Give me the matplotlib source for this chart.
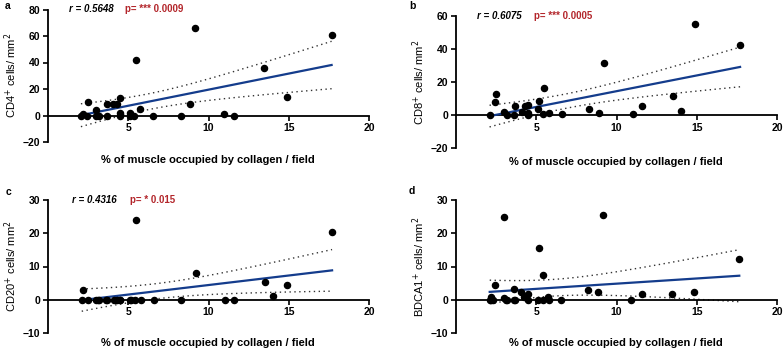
import numpy as np
import matplotlib
matplotlib.use('Agg')
import matplotlib.pyplot as plt

plt.rcParams['font.family'] = ['Liberation Sans', 'DejaVu Sans']

# collagen % per field (x) and cell density (y) per panel
xa = [2.05, 2.2, 2.4, 2.5, 2.97, 3.0, 3.2, 3.65, 3.65, 4.07, 4.28, 4.46, 4.46, 4.5,
      5.08, 5.1, 5.35, 5.47, 5.76, 6.57, 8.26, 8.86, 9.19, 10.97, 11.6, 13.47, 14.86, 17.67]
ya = [0, 1.5, 0, 10, 4, 0, 0, 9, 0, 8.5, 9, 13, 2, 0,
      2, 0, 0, 42, 5, 0, 0, 9, 66, 1, 0, 35.5, 14, 61]

xb = [2.09, 2.4, 2.5, 3.0, 3.2, 3.6, 3.7, 4.1, 4.3, 4.46, 4.5, 4.5, 5.08, 5.18,
      5.4, 5.5, 5.8, 6.6, 8.3, 8.9, 9.2, 11.0, 11.6, 13.5, 14.0, 14.9, 17.7]
yb = [0, 7.8, 12.7, 1.6, 0, 0, 5.2, 1.6, 5.6, 0, 6.2, 1.5, 3.6, 8.2,
      0.6, 16.3, 1.2, 0.6, 3.8, 1.0, 31.8, 0.6, 5.4, 11.7, 2.6, 55, 42.7]

xc = [2.1, 2.15, 2.5, 3.0, 3.1, 3.2, 3.6, 3.7, 4.1, 4.3, 4.46, 4.5, 5.08, 5.2,
      5.4, 5.5, 5.8, 6.6, 8.3, 9.2, 11.0, 11.6, 13.5, 14.0, 14.9, 17.7]
yc = [0, 3, 0, 0, 0, 0, 0, 0, 0, 0, 0, 0, 0, 0,
      0, 24, 0, 0, 0, 8, 0, 0, 5.3, 1.1, 4.3, 20.3]

xd = [2.1, 2.15, 2.2, 2.3, 2.45, 3.0, 3.0, 3.1, 3.2, 3.6, 3.6, 3.7, 4.05, 4.25, 4.46, 4.5,
      5.08, 5.15, 5.4, 5.45, 5.75, 5.8, 6.55, 8.25, 8.85, 9.15, 10.9, 11.6, 13.45, 14.8, 17.65]
yd = [0, 0, 0.8, 0, 4.5, 0.4, 25, 0, 0, 3.3, 0, 0, 2.2, 0.8, 1.7, 0,
      0, 15.6, 0, 7.4, 0.8, 0, 0, 2.8, 2.4, 25.5, 0, 1.6, 1.6, 2.2, 12.4]

ylabels = ['CD4$^{+}$ cells/ mm$^{2}$', 'CD8$^{+}$ cells/ mm$^{2}$',
           'CD20$^{+}$ cells/ mm$^{2}$', 'BDCA1$^{+}$ cells/ mm$^{2}$']
letters = ['a', 'b', 'c', 'd']
r_txt = ['r = 0.5648', 'r = 0.6075', 'r = 0.4316', None]
p_txt = ['p= *** 0.0009', 'p= *** 0.0005', 'p= * 0.015', None]
ylims = [(-20, 80), (-20, 60), (-10, 30), (-10, 30)]
yticks = [[-20, 0, 20, 40, 60, 80], [-20, 0, 20, 40, 60], [-10, 0, 10, 20, 30], [-10, 0, 10, 20, 30]]

W, H = 783, 351
# axes boxes in pixels: left, top, right, bottom
boxes = [(48, 9.5, 369, 142), (456, 16, 777, 148), (48, 200, 369, 333), (456, 200, 777, 333)]
xlab_y = [-0.136, -0.106, -0.075, -0.075]
ann_pos = [(69, 125, 9), (477, 534, 16), (72, 130, 200), None]
letter_pos = [(8, 6), (412, 6), (8, 192), (412, 191)]

fig = plt.figure(figsize=(W / 100, H / 100), dpi=100)
data = [(xa, ya), (xb, yb), (xc, yc), (xd, yd)]

for i, (x, y) in enumerate(data):
    l, t, r, b = boxes[i]
    ax = fig.add_axes([l / W, 1 - b / H, (r - l) / W, (b - t) / H])
    x = np.array(x); y = np.array(y)

    # linear fit with 95% confidence band
    n = len(x)
    slope, icpt = np.polyfit(x, y, 1)
    xs = np.linspace(x.min(), x.max(), 100)
    yfit = slope * xs + icpt
    resid = y - (slope * x + icpt)
    s = np.sqrt(np.sum(resid ** 2) / (n - 2))
    sxx = np.sum((x - x.mean()) ** 2)
    half = 2.05 * s * np.sqrt(1 / n + (xs - x.mean()) ** 2 / sxx)

    ax.plot(xs, yfit + half, ls=(0, (1, 2.5)), color='#333333', lw=1)
    ax.plot(xs, yfit - half, ls=(0, (1, 2.5)), color='#333333', lw=1)
    ax.plot(xs, yfit, color='#143c8c', lw=1.6, zorder=3)
    ax.plot(x, y, 'o', color='black', ms=4.4, zorder=4, clip_on=False)

    ax.set_xlim(0, 20)
    ax.set_ylim(*ylims[i])
    ax.set_xticks([5, 10, 15, 20])
    ax.set_yticks(yticks[i])
    ax.spines['top'].set_visible(False)
    ax.spines['right'].set_visible(False)
    ax.spines['bottom'].set_position(('data', 0))
    for sp in ['left', 'bottom']:
        ax.spines[sp].set_linewidth(1.3)
    ax.tick_params(axis='both', direction='out', length=3.5, width=1.2, labelsize=7.5, pad=2)
    for lab in ax.get_xticklabels() + ax.get_yticklabels():
        lab.set_fontweight('bold')
    ax.patch.set_alpha(0)

    ax.set_ylabel(ylabels[i], fontsize=8, va='center')
    ax.yaxis.set_label_coords(-0.115, 0.5)
    ax.text(0.498, xlab_y[i], '% of muscle occupied by collagen / field', transform=ax.transAxes,
            ha='center', va='center', fontsize=8, fontweight='bold')

    lx, ly = letter_pos[i]
    fig.text(lx / W, 1 - ly / H, letters[i], fontsize=7.5, fontweight='bold', ha='center', va='center')
    if ann_pos[i] is not None:
        rx, px, ty = ann_pos[i]
        fig.text(rx / W, 1 - ty / H, r_txt[i], fontsize=7, fontweight='bold', fontstyle='italic',
                 ha='left', va='center')
        fig.text(px / W, 1 - ty / H, p_txt[i], fontsize=7, fontweight='bold', color='#b3262b',
                 ha='left', va='center')

fig.savefig('out.png', dpi=100)
